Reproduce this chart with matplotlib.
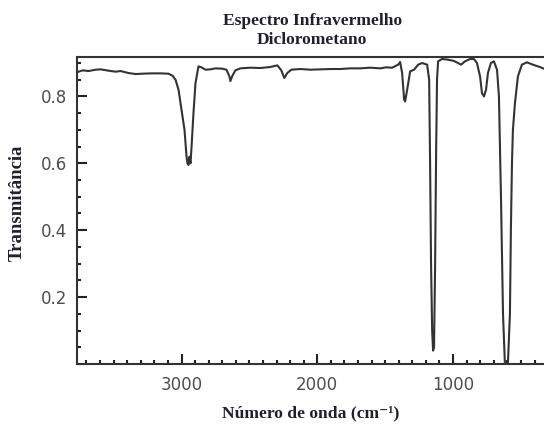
import matplotlib
matplotlib.use("Agg")
import matplotlib.pyplot as plt
from matplotlib.ticker import MultipleLocator

# Espectro IR do diclorometano
numero_onda = [3765, 3728, 3684, 3632, 3596, 3537, 3485, 3449, 3390, 3338,
               3287, 3228, 3154, 3096, 3066, 3044, 3022, 3000, 2978, 2963,
               2956, 2949, 2941, 2934, 2926, 2912, 2897, 2875, 2853, 2824,
               2787, 2750, 2699, 2669, 2647, 2640, 2625, 2603, 2566, 2493,
               2419, 2346, 2294, 2265, 2243, 2221, 2191, 2125, 2051, 1978,
               1904, 1831, 1757, 1684, 1610, 1537, 1493, 1449, 1404, 1390,
               1375, 1360, 1353, 1338, 1316, 1287, 1257, 1228, 1191, 1176,
               1169, 1162, 1154, 1147, 1140, 1132, 1125, 1118, 1110, 1081,
               1037, 993, 963, 941, 912, 875, 846, 824, 801, 787,
               772, 757, 743, 721, 699, 676, 662, 647, 632, 618,
               596, 581, 574, 566, 559, 544, 522, 493, 456, 412,
               360, 331, 301]
transmitancia = [0.873, 0.878, 0.876, 0.880, 0.881, 0.877, 0.874, 0.876, 0.870, 0.867,
                 0.868, 0.869, 0.869, 0.868, 0.862, 0.850, 0.820, 0.760, 0.700, 0.620,
                 0.600, 0.595, 0.620, 0.600, 0.650, 0.750, 0.840, 0.890, 0.887, 0.880,
                 0.881, 0.884, 0.883, 0.880, 0.860, 0.846, 0.862, 0.878, 0.884, 0.886,
                 0.885, 0.888, 0.893, 0.878, 0.855, 0.870, 0.880, 0.882, 0.880, 0.881,
                 0.882, 0.882, 0.884, 0.884, 0.886, 0.884, 0.887, 0.886, 0.895, 0.903,
                 0.870, 0.790, 0.785, 0.820, 0.875, 0.880, 0.895, 0.900, 0.895, 0.850,
                 0.600, 0.300, 0.100, 0.040, 0.050, 0.300, 0.620, 0.850, 0.905, 0.912,
                 0.910, 0.906, 0.900, 0.895, 0.905, 0.912, 0.912, 0.900, 0.860, 0.810,
                 0.800, 0.820, 0.870, 0.900, 0.905, 0.880, 0.800, 0.500, 0.150, 0.000,
                 0.000, 0.150, 0.400, 0.600, 0.700, 0.780, 0.860, 0.895, 0.902, 0.895,
                 0.888, 0.883, 0.880]

serif = ["Liberation Serif", "DejaVu Serif"]
cor_texto = "#1f1f2e"

fig = plt.figure(figsize=(5.44, 4.33), dpi=100)
ax = fig.add_axes([0.1415, 0.1594, 0.866, 0.709])

ax.plot(numero_onda, transmitancia, color="#333333", lw=1.5)

ax.set_xlim(3770, 300)
ax.set_ylim(0, 0.918)

ax.xaxis.set_major_locator(MultipleLocator(1000))
ax.xaxis.set_minor_locator(MultipleLocator(100))
ax.yaxis.set_minor_locator(MultipleLocator(0.05))
ax.set_yticks([0.2, 0.4, 0.6, 0.8])

ax.tick_params(which="major", direction="in", length=7, width=1.5,
               labelsize=12, labelcolor="#4d4d4d", color="#222222")
ax.tick_params(which="minor", direction="in", length=3, width=1.5, color="#222222")
ax.tick_params(axis="x", which="major", pad=9)
ax.tick_params(axis="y", which="major", pad=7)

for s in ["left", "bottom", "top"]:
    ax.spines[s].set_linewidth(1.5)
    ax.spines[s].set_color("#333333")
ax.spines["right"].set_visible(False)

# titulo em duas linhas, centrado sobre o eixo
fig.text(0.574, 1 - 13 / 433, "Espectro Infravermelho\nDiclorometano",
         family=serif, fontweight="bold", fontsize=12.6, color=cor_texto,
         ha="center", va="top", linespacing=1.25)

ax.set_ylabel("Transmitância", family=serif, fontweight="bold",
              fontsize=13.5, color=cor_texto, va="center")
ax.yaxis.set_label_coords(-0.127, 0.524)
ax.set_xlabel("Número de onda (cm⁻¹)", family=serif, fontweight="bold",
              fontsize=12.6, color=cor_texto, va="center")
ax.xaxis.set_label_coords(0.497, -0.16)

fig.savefig("out.png", dpi=100)
